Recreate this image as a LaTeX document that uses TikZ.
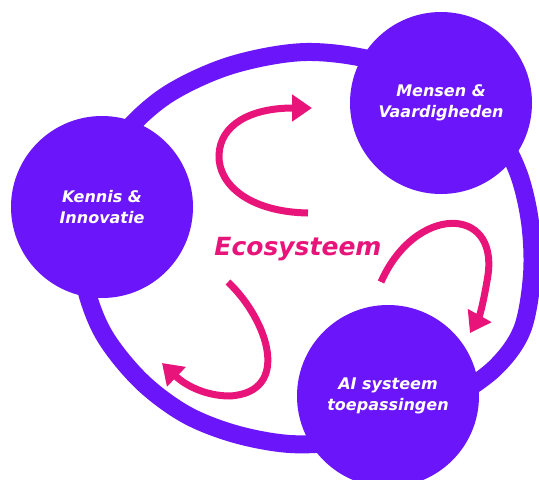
\documentclass[tikz,border=0pt]{standalone}
\usepackage{fontspec}
\setmainfont{DejaVu Sans}[ItalicFont={DejaVu Sans Oblique}, BoldFont={DejaVu Sans Bold}, BoldItalicFont={DejaVu Sans Bold Oblique}]
\usetikzlibrary{arrows.meta}
\definecolor{violet1}{HTML}{6B15FA}
\definecolor{pink1}{HTML}{E8147A}
\begin{document}
\begin{tikzpicture}[x=1pt,y=-1pt,
  hub/.style={circle, fill=violet1, minimum size=182pt, inner sep=0pt, text=white, align=center,
    font=\fontsize{16}{21}\selectfont\bfseries\itshape},
  ring/.style={draw=violet1, line width=18pt},
  flow/.style={draw=pink1, line width=7pt, -{Triangle[length=20pt,width=26pt]}}]
\fill[white] (0,0) rectangle (539,480);
\path[use as bounding box] (0,0) rectangle (539,480);
% outer ring
\draw[ring] plot[smooth cycle, tension=0.55] coordinates {
  (306,52) (380,62) (445,92) (495,132) (518,172) (530,222) (532,275) (522,330) (495,368)
  (450,400) (400,427) (345,441) (290,444) (235,434) (185,414) (140,380) (103,333)
  (84,280) (82,225) (97,175) (127,130) (170,93) (232,65)};
% hubs
\node[hub] (kennis) at (102,207) {Kennis \&\\Innovatie};
\node[hub] (mensen) at (441,103) {Mensen \&\\Vaardigheden};
\node[hub] (ai) at (388,396) {AI systeem\\toepassingen};
% centre label
\node[anchor=base, text=pink1, inner sep=0pt, font=\fontsize{25}{30}\selectfont\bfseries\itshape] (eco) at (298,255) {Ecosysteem};
% flow arrows
\coordinate (a1s) at (308,213);
\coordinate (a1e) at (312,108);
\coordinate (a2s) at (381,282);
\coordinate (a2e) at (470,333);
\coordinate (a3s) at (228,282);
\coordinate (a3e) at (162,363);
\draw[flow] (a1s) .. controls (250,212) and (218,185) .. (219,155) .. controls (220,125) and (250,108) .. (a1e);
\draw[flow] (a2s) .. controls (415,205) and (498,205) .. (488,275) .. controls (484,300) and (480,315) .. (a2e);
\draw[flow] (a3s) .. controls (268,320) and (292,392) .. (230,396) .. controls (205,396) and (185,385) .. (a3e);
\end{tikzpicture}
\end{document}
